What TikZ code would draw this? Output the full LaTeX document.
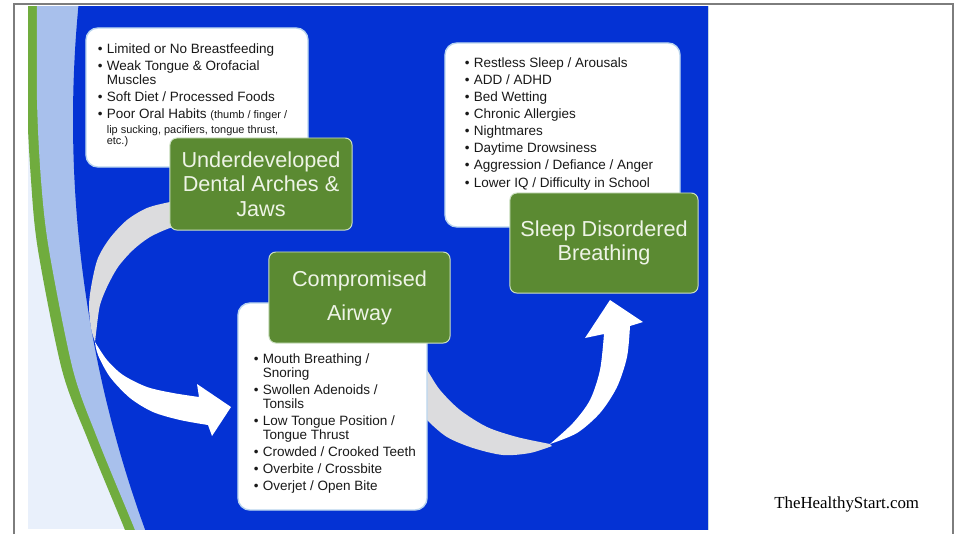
\documentclass[tikz,border=0pt]{standalone}
\usepackage{fontspec}
\setmainfont{Liberation Sans}
\newfontfamily\sitefont{Liberation Serif}
\usetikzlibrary{calc}
\definecolor{slideblue}{RGB}{4,50,212}
\definecolor{boxgreen}{RGB}{91,138,50}
\definecolor{stripegreen}{RGB}{112,172,62}
\definecolor{stripeblue}{RGB}{168,192,236}
\definecolor{paleblue}{RGB}{233,240,251}
\definecolor{ribbongray}{RGB}{220,220,222}
\definecolor{framegray}{RGB}{125,125,125}
\definecolor{boxedge}{RGB}{185,212,238}
\definecolor{greenedge}{RGB}{205,225,195}
\definecolor{greentext}{RGB}{238,244,230}
\definecolor{listblack}{RGB}{25,25,25}
\tikzset{
  wbox/.style={draw=boxedge, line width=1pt, fill=white, rounded corners=0.3cm},
  gbox/.style={draw=greenedge, line width=0.7pt, fill=boxgreen, rounded corners=0.17cm, text=greentext, align=center, inner sep=0pt},
  glab/.style={font=\fontsize{15.4}{#1}\selectfont},
  blist/.style={anchor=base west, inner sep=0pt, text=listblack, font=\fontsize{9.6}{10}\selectfont},
  rib/.style={fill=ribbongray},
  ribhead/.style={fill=white}
}
\newcommand{\igap}{2.2pt}
\newcommand{\sm}{\fontsize{7.8}{8}\selectfont}

\begin{document}
\begin{tikzpicture}[x=0.025cm, y=-0.025cm]
  \useasboundingbox[fill=white] (0,0) rectangle (957,534);
  % slide background
  \begin{scope}
    \clip (28,6) rectangle (708,529);
    \fill[paleblue] (28,6) rectangle (708,529);
    \fill[stripegreen] plot[smooth] coordinates {(27,-10) (27,100) (31,180) (38,250) (62,370) (88,440) (125,530) (130,545)} -- (720,545) -- (720,-10) -- cycle;
    \fill[stripeblue] plot[smooth] coordinates {(37,-10) (37,100) (41,180) (49,250) (73,370) (98,440) (135,530) (140,545)} -- (720,545) -- (720,-10) -- cycle;
    \fill[slideblue] plot[domain=-10:545, variable=\t, samples=60] ({1273-1200*sqrt(1-((\t-120)/1200)^2)}, \t) -- (720,545) -- (720,-10) -- cycle;
  \end{scope}

  % ribbons
  \fill[rib] plot[smooth] coordinates {(185,200) (170,202) (147,208) (127,220) (110,238) (98,258) (92,282) (89,305) (91,328) (95,342)}
    -- plot[smooth] coordinates {(97,325) (100,305) (107,287) (118,267) (133,250) (150,237) (170,228) (185,225)} -- cycle;
  \fill[ribhead] plot[smooth] coordinates {(95,342) (107,360) (123,375) (147,387) (173,393) (199,397)}
    -- (197,384) -- (231,407) -- (212,436)
    -- plot[smooth] coordinates {(208,425) (180,420) (153,412) (130,398) (110,377) (98,355) (95,342)} -- cycle;
  \fill[rib] plot[smooth] coordinates {(410,345) (427,370) (440,390) (460,410) (487,427) (517,437) (550,444)}
    -- plot[smooth] coordinates {(552,446) (530,453) (503,455) (473,448) (447,437) (427,420) (410,400)} -- cycle;
  \fill[ribhead] plot[smooth] coordinates {(550,444) (573,423) (590,400) (600,370) (604,334)}
    -- (585,338) -- (610,300) -- (643,322)
    -- plot[smooth] coordinates {(630,326) (627,357) (617,387) (600,413) (577,433) (550,444)} -- cycle;

  % causes
  \node[wbox, minimum width=5.55cm, minimum height=3.475cm] (causes) at (197,97.5) {};
  \node[blist] (causeslist) at (97.6,53) {\begin{tabular}[t]{@{}l@{\hspace{3pt}}l@{}}
    \textbullet & Limited or No Breastfeeding\\[\igap]
    \textbullet & Weak Tongue \& Orofacial\\
                & Muscles\\[\igap]
    \textbullet & Soft Diet / Processed Foods\\[\igap]
    \textbullet & Poor Oral Habits {\sm(thumb / finger /}\\[0.7pt]
                & {\sm lip sucking, pacifiers, tongue thrust,}\\[-2.2pt]
                & {\sm etc.)}
  \end{tabular}};
  \node[gbox, glab=17.4pt, minimum width=4.55cm, minimum height=2.3cm] (jaws) at (261,184) {Underdeveloped\\Dental Arches \&\\Jaws};

  % symptoms
  \node[wbox, minimum width=5.875cm, minimum height=4.6cm] (symptoms) at (562.5,135) {};
  \node[blist] (symptomslist) at (464.6,67) {\begin{tabular}[t]{@{}l@{\hspace{3pt}}l@{}}
    \textbullet & Restless Sleep / Arousals\\[\igap]
    \textbullet & ADD / ADHD\\[\igap]
    \textbullet & Bed Wetting\\[\igap]
    \textbullet & Chronic Allergies\\[\igap]
    \textbullet & Nightmares\\[\igap]
    \textbullet & Daytime Drowsiness\\[\igap]
    \textbullet & Aggression / Defiance / Anger\\[\igap]
    \textbullet & Lower IQ / Difficulty in School
  \end{tabular}};
  \node[gbox, glab=17pt, minimum width=4.7cm, minimum height=2.5cm] (sdb) at (604,243) {Sleep Disordered\\Breathing};

  % signs
  \node[wbox, minimum width=4.725cm, minimum height=5.175cm] (signs) at (332.5,406.5) {};
  \node[blist] (signslist) at (253.6,363) {\begin{tabular}[t]{@{}l@{\hspace{3pt}}l@{}}
    \textbullet & Mouth Breathing /\\
                & Snoring\\[\igap]
    \textbullet & Swollen Adenoids /\\
                & Tonsils\\[\igap]
    \textbullet & Low Tongue Position /\\
                & Tongue Thrust\\[\igap]
    \textbullet & Crowded / Crooked Teeth\\[\igap]
    \textbullet & Overbite / Crossbite\\[\igap]
    \textbullet & Overjet / Open Bite
  \end{tabular}};
  \node[gbox, glab=24.2pt, minimum width=4.525cm, minimum height=2.275cm] (airway) at (359.5,297.5) {Compromised\\Airway};

  \node[anchor=base west, inner sep=0pt, font=\sitefont\fontsize{12}{14}\selectfont] (site) at (774,508) {TheHealthyStart.com};
  \draw[framegray, line width=0.8pt] (14,534) -- (14,4) -- (953,4) -- (953,534);
\end{tikzpicture}
\end{document}
